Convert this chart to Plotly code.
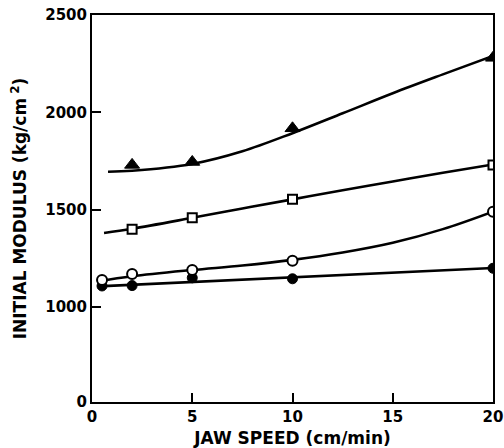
import plotly.graph_objects as go

# ---- data ----
speed_all = [0.5, 2, 5, 10, 20]
speed = [2, 5, 10, 20]

tri_y = [1730, 1745, 1918, 2280]          # filled triangles
sq_y = [1400, 1459, 1553, 1730]           # open squares
ocirc_y = [1139, 1169, 1190, 1238, 1489]  # open circles
fcirc_y = [1108, 1110, 1150, 1145, 1199]  # filled circles

# fitted curves
tri_fit_x = [0.8, 2, 5, 7.5, 10, 12.5, 15, 17.5, 20]
tri_fit_y = [1695, 1700, 1735, 1800, 1893, 1995, 2098, 2195, 2290]
sq_fit_x = [0.6, 2, 5, 7.5, 10, 12.5, 15, 17.5, 20]
sq_fit_y = [1380, 1402, 1458, 1506, 1553, 1600, 1645, 1690, 1732]
oc_fit_x = [0.3, 2, 5, 7.5, 10, 12.5, 15, 17.5, 20]
oc_fit_y = [1132, 1158, 1190, 1213, 1242, 1280, 1330, 1400, 1490]
fc_fit_x = [0.3, 20]
fc_fit_y = [1106, 1200]

x_ticks = [0, 5, 10, 15, 20]
y_tickvals = [512, 1000, 1500, 2000, 2500]   # axis is broken below 1000
y_ticktext = ["0", "1000", "1500", "2000", "2500"]

FONT = "DejaVu Sans"
fig = go.Figure()

line_style = dict(color="black", width=2.6, shape="spline", smoothing=1.0)
for fx, fy in [(tri_fit_x, tri_fit_y), (sq_fit_x, sq_fit_y),
               (oc_fit_x, oc_fit_y), (fc_fit_x, fc_fit_y)]:
    fig.add_trace(go.Scatter(x=fx, y=fy, mode="lines", line=line_style,
                             hoverinfo="skip", showlegend=False))

fig.add_trace(go.Scatter(x=speed_all, y=fcirc_y, mode="markers",
                         marker=dict(symbol="circle", size=10, color="black",
                                     line=dict(color="black", width=1)),
                         showlegend=False))
fig.add_trace(go.Scatter(x=speed_all, y=ocirc_y, mode="markers",
                         marker=dict(symbol="circle", size=10, color="white",
                                     line=dict(color="black", width=2)),
                         showlegend=False))
fig.add_trace(go.Scatter(x=speed, y=sq_y, mode="markers",
                         marker=dict(symbol="square", size=9, color="white",
                                     line=dict(color="black", width=2)),
                         showlegend=False))
fig.add_trace(go.Scatter(x=speed, y=tri_y, mode="markers",
                         marker=dict(symbol="triangle-up", size=13, color="black",
                                     line=dict(color="black", width=1)),
                         showlegend=False))

fig.update_layout(
    width=504, height=448,
    margin=dict(l=92, r=11, t=15, b=46),
    paper_bgcolor="white", plot_bgcolor="white",
    font=dict(family=FONT, color="black", size=14),
)
fig.update_xaxes(
    range=[0, 20], tickvals=x_ticks, ticktext=[str(v) for v in x_ticks],
    showline=True, linecolor="black", linewidth=2, mirror=True,
    ticks="inside", ticklen=9, tickwidth=2, tickcolor="black",
    showgrid=False, zeroline=False, automargin=False,
    tickfont=dict(family=FONT, size=15, weight="bold"),
    title=dict(text="JAW SPEED (cm/min)", standoff=8,
               font=dict(family=FONT, size=17, weight="bold")),
)
fig.update_yaxes(
    range=[512, 2500], tickvals=y_tickvals, ticktext=y_ticktext,
    showline=True, linecolor="black", linewidth=2, mirror=True,
    ticks="inside", ticklen=9, tickwidth=2, tickcolor="black",
    showgrid=False, zeroline=False, automargin=False,
    tickfont=dict(family=FONT, size=15, weight="bold"),
    title=dict(text="INITIAL MODULUS (kg/cm<sup> 2</sup>)", standoff=14,
               font=dict(family=FONT, size=17, weight="bold")),
)

fig.write_html("out.html")
